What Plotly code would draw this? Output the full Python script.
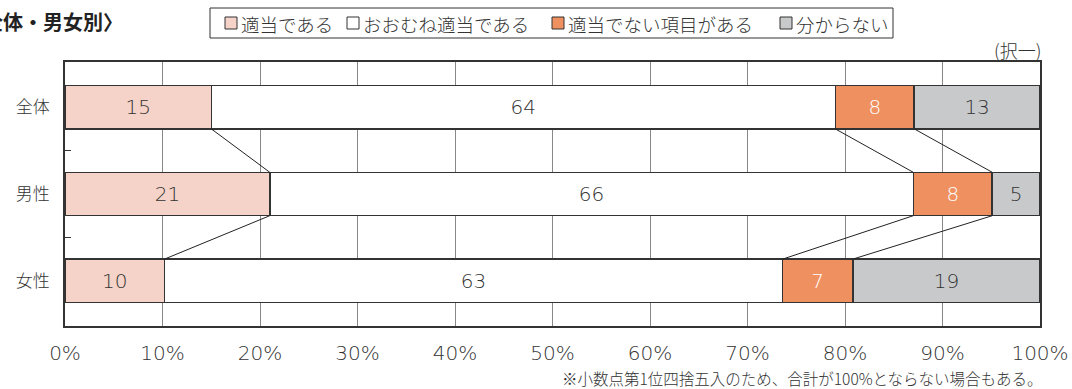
import plotly.graph_objects as go

categories = ["全体", "男性", "女性"]
series_names = ["適当である", "おおむね適当である", "適当でない項目がある", "分からない"]
tekitou = [15.0, 21.0, 10.2]
oomune = [64.0, 66.0, 63.4]
futekitou = [8.1, 8.1, 7.2]
wakaranai = [12.9, 4.9, 19.2]
x_ticks = [0, 10, 20, 30, 40, 50, 60, 70, 80, 90, 100]

series = [tekitou, oomune, futekitou, wakaranai]
colors = ["#F5D3C8", "#FFFFFF", "#EF9060", "#C8C9CB"]
text_colors = ["#333333", "#333333", "#FFFFFF", "#333333"]

JP = "Noto Sans CJK JP"
NUM = "DejaVu Sans"
EDGE = "#333333"

W, H = 1072, 389
ML, MR, MT, MB = 65, 32, 62, 63
PW, PH = W - ML - MR, H - MT - MB


def px_x(px):
    return (px - ML) / PW


def px_y(py):
    return 1 + (MT - py) / PH


ypos = list(range(len(categories)))
BAR_W = 0.5

fig = go.Figure()
for name, vals, col, tcol in zip(series_names, series, colors, text_colors):
    fig.add_trace(go.Bar(
        name=name, y=ypos, x=vals, orientation="h", width=BAR_W,
        marker=dict(color=col, line=dict(color=EDGE, width=1.5)),
        text=[str(round(v)) for v in vals], textposition="inside",
        insidetextanchor="middle", textangle=0,
        textfont=dict(family=NUM, size=20, color=tcol, weight=200),
        hoverinfo="skip", showlegend=False,
    ))

# connector lines between neighbouring bars at each cumulative boundary
cum = []
for i in range(len(categories)):
    c, acc = [], 0.0
    for s in series[:-1]:
        acc += s[i]
        c.append(acc)
    cum.append(c)
for i in range(len(categories) - 1):
    for k in range(len(series) - 1):
        fig.add_trace(go.Scatter(
            x=[cum[i][k], cum[i + 1][k]],
            y=[ypos[i] + BAR_W / 2, ypos[i + 1] - BAR_W / 2],
            mode="lines", line=dict(color="#222222", width=1),
            showlegend=False, hoverinfo="skip",
        ))

# legend drawn as a boxed row of swatches and labels
legend_box = (210, 8, 893, 38)
swatch_px = [225, 347, 552, 780]
shapes = [dict(type="rect", xref="paper", yref="paper",
               x0=px_x(legend_box[0]), x1=px_x(legend_box[2]),
               y0=px_y(legend_box[3]), y1=px_y(legend_box[1]),
               line=dict(color=EDGE, width=1), fillcolor="white")]
annotations = []
for name, col, sx in zip(series_names, colors, swatch_px):
    shapes.append(dict(type="rect", xref="paper", yref="paper",
                       x0=px_x(sx), x1=px_x(sx + 12),
                       y0=px_y(29), y1=px_y(17),
                       line=dict(color=EDGE, width=1), fillcolor=col))
    annotations.append(dict(text=name, xref="paper", yref="paper",
                            x=px_x(sx + 14), y=px_y(23.5),
                            xanchor="left", yanchor="middle", showarrow=False,
                            font=dict(family=JP, size=18.5, color="#333333", weight=300)))

annotations += [
    dict(text="〈全体・男女別〉", xref="paper", yref="paper", x=px_x(125), y=px_y(22),
         xanchor="right", yanchor="middle", showarrow=False,
         font=dict(family=JP, size=20, color="#222222", weight="bold")),
    dict(text="(択一)", xref="paper", yref="paper", x=px_x(1043), y=px_y(50),
         xanchor="right", yanchor="middle", showarrow=False,
         font=dict(family=JP, size=18, color="#333333", weight=300)),
    dict(text="※小数点第1位四捨五入のため、合計が100%とならない場合もある。",
         xref="paper", yref="paper", x=px_x(1045), y=px_y(378),
         xanchor="right", yanchor="middle", showarrow=False,
         font=dict(family=JP, size=15.5, color="#333333", weight=300)),
]

fig.update_layout(
    barmode="stack",
    width=W, height=H,
    margin=dict(l=ML, r=MR, t=MT, b=MB, autoexpand=False),
    paper_bgcolor="white", plot_bgcolor="white",
    showlegend=False,
    xaxis=dict(
        range=[0, 100], tickvals=x_ticks, ticktext=[f"{t}%" for t in x_ticks],
        showgrid=True, gridcolor="#888888", gridwidth=1, zeroline=False,
        showline=True, mirror=True, linecolor=EDGE, linewidth=1.5,
        ticks="", ticklabelstandoff=8, automargin=False,
        tickfont=dict(family=NUM, size=20, color="#333333", weight=200),
    ),
    yaxis=dict(
        range=[len(categories) - 0.48, -0.52], tickvals=ypos, ticktext=categories,
        showgrid=False, zeroline=False, automargin=False,
        showline=True, mirror=True, linecolor=EDGE, linewidth=1.5,
        ticks="", ticklabelstandoff=10,
        tickfont=dict(family=JP, size=17, color="#333333", weight=300),
        minor=dict(tickvals=[0.5, 1.5], ticks="inside", ticklen=6,
                   tickcolor=EDGE, tickwidth=1, showgrid=False),
    ),
    shapes=shapes,
    annotations=annotations,
)

fig.write_html("out.html")
